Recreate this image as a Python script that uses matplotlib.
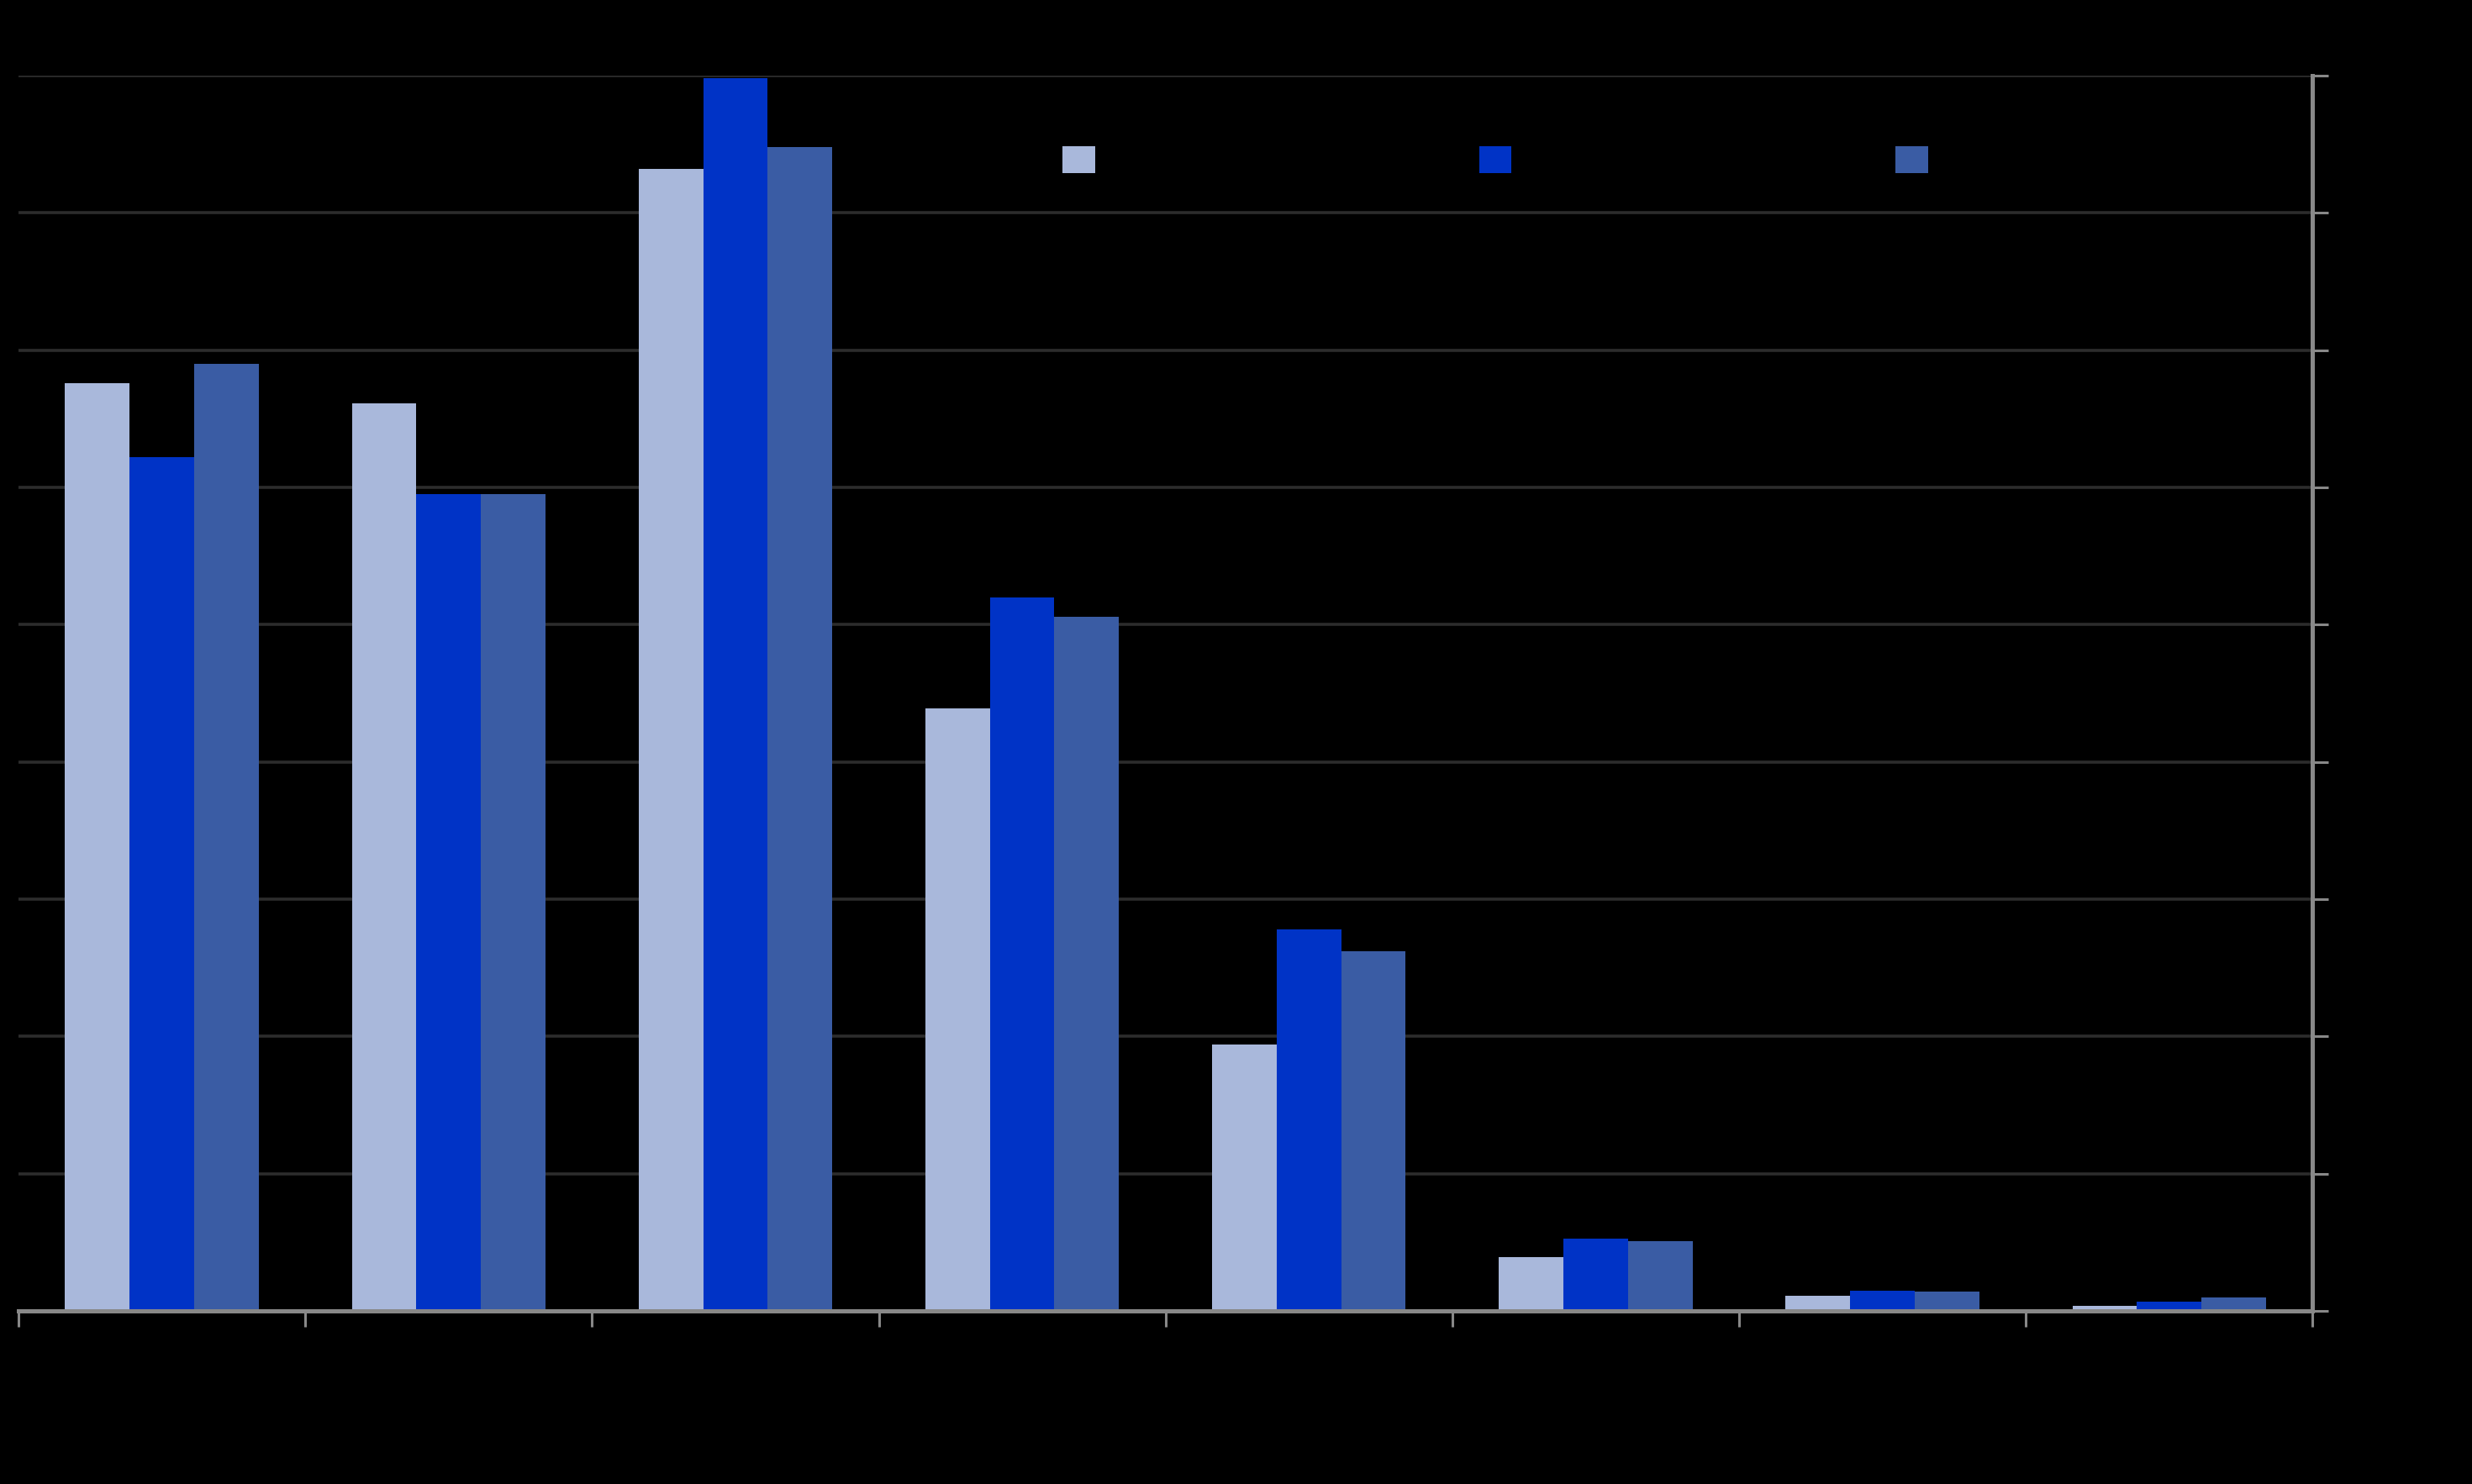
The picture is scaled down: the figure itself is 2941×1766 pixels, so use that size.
import numpy as np
import matplotlib.pyplot as plt

# bar heights (one grid step = 1)
light = [6.76, 6.61, 8.32, 4.39, 1.94, 0.39, 0.11, 0.04]
blue = [6.22, 5.95, 8.98, 5.20, 2.78, 0.53, 0.15, 0.07]
dark = [6.90, 5.95, 8.48, 5.06, 2.62, 0.51, 0.14, 0.10]
series_names = ['Series 1', 'Series 2', 'Series 3']
colors = ['#A9B8DB', '#0033C6', '#3A5CA4']

fig = plt.figure(figsize=(29.41, 17.66), dpi=100, facecolor='black')
ax = fig.add_axes([0.0075, 0.1166, 0.928, 0.8325])
ax.set_facecolor('black')

x = np.arange(len(light)) + 0.5
w = 0.225
for i, (vals, c, name) in enumerate(zip([light, blue, dark], colors, series_names)):
    ax.bar(x + (i - 1) * w, vals, width=w, color=c, label=name, zorder=3)

ax.set_xlim(0, len(light))
ax.set_ylim(0, 9)
ax.set_yticks(np.arange(0, 10))
ax.set_xticks(np.arange(0, len(light) + 1))
ax.set_xticklabels([])
ax.yaxis.tick_right()
ax.grid(axis='y', color='#2c2c2c', linewidth=2.6, zorder=0)

for s in ['top', 'left']:
    ax.spines[s].set_visible(False)
ax.spines['right'].set_color('#888888')
ax.spines['right'].set_linewidth(3.6)
ax.spines['bottom'].set_color('#888888')
ax.spines['bottom'].set_linewidth(3.6)
ax.spines['bottom'].set_zorder(4)
ax.tick_params(axis='both', colors='#888888', width=2.2, length=14,
               labelcolor='black', labelsize=22)

leg = ax.legend(loc='upper left', bbox_to_anchor=(0.446, 0.96), ncol=3,
                frameon=False, fontsize=20, handlelength=1.4, handleheight=1.4,
                columnspacing=11.9, handletextpad=0.5)
for t in leg.get_texts():
    t.set_color('black')

fig.savefig('out.png', dpi=100, facecolor='black')
